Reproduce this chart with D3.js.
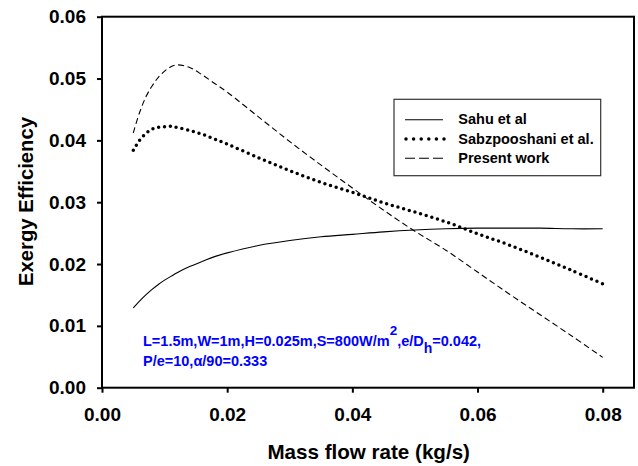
<!DOCTYPE html>
<html>
<head>
<meta charset="utf-8">
<script src="https://cdn.jsdelivr.net/npm/d3@7"></script>
<style>
  html, body { margin: 0; padding: 0; background: #fff; }
  svg { display: block; font-family: Arial, "Liberation Sans", sans-serif; }
</style>
</head>
<body>
<svg id="chart" width="638" height="466"></svg>
<script>
// ---- data ----
const massFlow = [0.005,0.006,0.007,0.008,0.009,0.010,0.011,0.012,0.014,0.016,0.018,0.020,0.025,0.030,0.035,0.040,0.045,0.050,0.055,0.060,0.065,0.070,0.075,0.080];
const sahu = [0.0129,0.0140,0.0150,0.0159,0.0167,0.0174,0.0180,0.0186,0.0196,0.0204,0.0212,0.0218,0.0230,0.0238,0.0244,0.0248,0.0252,0.0255,0.0257,0.0258,0.0258,0.0258,0.0257,0.0257];
const sabzpooshani = [0.0384,0.0400,0.0411,0.0418,0.0421,0.0422,0.0423,0.0421,0.0416,0.0410,0.0402,0.0394,0.0372,0.0351,0.0332,0.0316,0.0299,0.0284,0.0268,0.0249,0.0231,0.0211,0.0190,0.0168];
const presentWork = [0.0412,0.0445,0.0470,0.0488,0.0502,0.0512,0.0519,0.0522,0.0518,0.0506,0.0492,0.0478,0.0438,0.0398,0.0360,0.0323,0.0287,0.0253,0.0222,0.0187,0.0152,0.0118,0.0084,0.0049];
const xTicks = [0.00,0.02,0.04,0.06,0.08];
const yTicks = [0.00,0.01,0.02,0.03,0.04,0.05,0.06];
const seriesNames = ["Sahu et al","Sabzpooshani et al.","Present work"];

// ---- layout ----
const svg = d3.select("#chart");
const L = 102, R = 634, T = 16.7, B = 387.7;
const x = d3.scaleLinear().domain([0, 0.085]).range([L, R]);
const y = d3.scaleLinear().domain([0, 0.06]).range([B, T]);
const fmt = d3.format(".2f");

// axes
const gx = svg.append("g").attr("transform", `translate(0,${B})`)
  .call(d3.axisBottom(x).tickValues(xTicks).tickFormat(fmt).tickSize(5).tickSizeOuter(0).tickPadding(15));
const gy = svg.append("g").attr("transform", `translate(${L},0)`)
  .call(d3.axisLeft(y).tickValues(yTicks).tickFormat(fmt).tickSize(5).tickSizeOuter(0).tickPadding(11));
[gx, gy].forEach(g => {
  g.select(".domain").remove();
  g.selectAll(".tick line").attr("stroke", "#000").attr("stroke-width", 2);
  g.selectAll(".tick text").attr("fill", "#000")
    .style("font-size", "19px").style("font-weight", "bold")
    .style("font-family", "Arial, 'Liberation Sans', sans-serif");
});

// frame
svg.append("rect").attr("x", L).attr("y", T).attr("width", R - L).attr("height", B - T)
  .attr("fill", "none").attr("stroke", "#000").attr("stroke-width", 2);

// lines
const line = (vals) => d3.line().curve(d3.curveCatmullRom.alpha(0.5))
  .x((d, i) => x(massFlow[i])).y(d => y(d))(vals);

svg.append("path").attr("d", line(sahu))
  .attr("fill", "none").attr("stroke", "#000").attr("stroke-width", 1.1);
svg.append("path").attr("d", line(presentWork))
  .attr("fill", "none").attr("stroke", "#000").attr("stroke-width", 1.1)
  .attr("stroke-dasharray", "6,3.5");
svg.append("path").attr("d", line(sabzpooshani))
  .attr("fill", "none").attr("stroke", "#000").attr("stroke-width", 3.5)
  .attr("stroke-linecap", "round").attr("stroke-dasharray", "0,5.9");

// legend
const lg = svg.append("g");
lg.append("rect").attr("x", 394).attr("y", 99.3).attr("width", 206.7).attr("height", 76.4)
  .attr("fill", "#fff").attr("stroke", "#333").attr("stroke-width", 1.2);
const rowsY = [124.3, 143.6, 162.7];
const styles = [
  {w: 1.1, dash: null, cap: "butt"},
  {w: 3.5, dash: "0,7.6", cap: "round"},
  {w: 1.1, dash: "10,4", cap: "butt"}
];
seriesNames.forEach((name, i) => {
  const ly = rowsY[i] - 4.5;
  const p = lg.append("line").attr("x1", 405).attr("x2", 443).attr("y1", ly).attr("y2", ly)
    .attr("stroke", "#000").attr("stroke-width", styles[i].w).attr("stroke-linecap", styles[i].cap);
  if (styles[i].dash) p.attr("stroke-dasharray", styles[i].dash);
  if (i === 1) p.attr("x1", 406).attr("x2", 444.5);
  lg.append("text").attr("x", 458.3).attr("y", rowsY[i]).text(name)
    .style("font-size", "14.5px").style("font-weight", "bold").attr("fill", "#000");
});

// annotation
const ann = svg.append("text").attr("x", 143).attr("y", 345.7)
  .attr("fill", "#0000ff").style("font-size", "14.5px").style("font-weight", "bold");
ann.append("tspan").text("L=1.5m,W=1m,H=0.025m,S=800W/m");
ann.append("tspan").attr("dy", -10.5).style("font-size", "13.5px").text("2");
ann.append("tspan").attr("dy", 10.5).text(",e/D");
ann.append("tspan").attr("dy", 7.5).style("font-size", "14px").text("h");
ann.append("tspan").attr("dy", -7.5).text("=0.042,");
svg.append("text").attr("x", 143).attr("y", 365.5)
  .attr("fill", "#0000ff").style("font-size", "14.5px").style("font-weight", "bold")
  .text("P/e=10,α/90=0.333");

// axis titles
svg.append("text").attr("x", 368.7).attr("y", 459.3).attr("text-anchor", "middle")
  .style("font-size", "20.6px").style("font-weight", "bold").attr("fill", "#000")
  .text("Mass flow rate (kg/s)");
svg.append("text").attr("transform", "translate(33.3,201.5) rotate(-90)").attr("text-anchor", "middle")
  .style("font-size", "20.3px").style("font-weight", "bold").attr("fill", "#000")
  .text("Exergy Efficiency");
</script>
</body>
</html>
